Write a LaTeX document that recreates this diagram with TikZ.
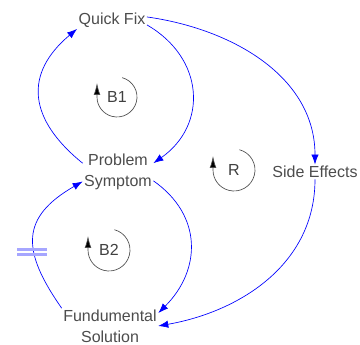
\documentclass[tikz,border=0pt]{standalone}
\usepackage{fontspec}
\setmainfont{Liberation Sans}
\usetikzlibrary{arrows.meta}

\begin{document}
\begin{tikzpicture}[x=0.75pt,y=0.75pt,
		var/.style={text=black!70, align=center, font=\fontsize{12}{15.5}\selectfont, inner sep=1pt},
		link/.style={draw=blue, line width=0.5pt, -{Latex[length=7.5pt,width=5.5pt]}},
		loopname/.style={text=black!75, font=\fontsize{12}{14}\selectfont, inner sep=0pt},
		loopmark/.style={draw=black!70, line width=0.5pt, -{Latex[length=9pt,width=5pt,fill=black]}},
		delay/.style={draw=blue!35, line width=1.8pt}]
			\useasboundingbox (0,0) rectangle (360,345);
		
			\node[var] (qf) at (112,325) {Quick Fix};
			\node[var] (ps) at (118,173) {Problem\\Symptom};
			\node[var] (se) at (315,173) {Side Effects};
			\node[var] (fs) at (110,19) {Fundumental\\Solution};
		
			\node[loopname] (b1) at (117,248) {B1};
			\node[loopname] (r) at (234,175) {R};
			\node[loopname] (b2) at (109,95) {B2};
		
			\draw[link] (ps.166) to [out=141, in=220, looseness=1.33] (qf.south west);
			\draw[link] (qf.-8) to [out=-30, in=35, looseness=1.23] (ps.14);
			\draw[link] (qf.5) to [out=-8, in=90] (se.north);
			\draw[link] (se.south) to [out=-90, in=10] (fs.east);
			\draw[link] (ps.-14) to [out=-35, in=45, looseness=1.17] (fs.15);
			\draw[link] (fs.north west) to [out=125, in=210, looseness=1.42] (ps.195);
		
			% delay mark
			\coordinate (dly) at (32,93);
			\draw[delay] ([shift={(-15,2.5)}]dly) -- ++(30,0);
			\draw[delay] ([shift={(-15,-2.5)}]dly) -- ++(30,0);
		
			\draw[loopmark] ([shift={(75:20)}]b1.center) arc[start angle=75, end angle=-180, radius=20] -- ++(0,14);
			\draw[loopmark] ([shift={(75:21)}]r.center) arc[start angle=75, end angle=-180, radius=21] -- ++(0,14);
			\draw[loopmark] ([shift={(75:21)}]b2.center) arc[start angle=75, end angle=-180, radius=21] -- ++(0,14);
		\end{tikzpicture}
\end{document}
